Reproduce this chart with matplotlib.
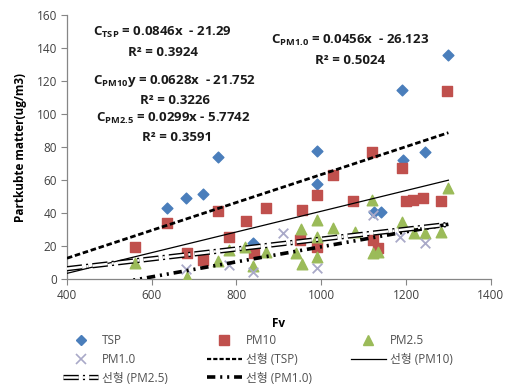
import numpy as np
import matplotlib
matplotlib.use("Agg")
import matplotlib.pyplot as plt
from matplotlib.lines import Line2D
from matplotlib.legend_handler import HandlerTuple

plt.rcParams['font.family'] = ['Open Sans', 'Noto Sans CJK KR', 'DejaVu Sans']
plt.rcParams['mathtext.fontset'] = 'custom'
plt.rcParams['mathtext.rm'] = 'Open Sans:bold'
plt.rcParams['mathtext.it'] = 'Open Sans:bold'
plt.rcParams['mathtext.bf'] = 'Open Sans:bold'
plt.rcParams['lines.scale_dashes'] = False

# Measured concentrations against Fv
tsp_x = [636, 680, 721, 756, 838, 989, 991, 1124, 1142, 1190, 1192, 1244, 1298]
tsp_y = [43, 49, 51.5, 74, 21.5, 77.5, 57.5, 40.5, 40.5, 114.5, 72, 77, 136]

pm10_x = [560, 636, 683, 721, 757, 782, 822, 841, 869, 949, 954, 989, 989, 1027,
          1076, 1119, 1122, 1134, 1190, 1199, 1216, 1240, 1282, 1296]
pm10_y = [19.5, 34, 15.8, 11.5, 41, 25.5, 35, 15.5, 43, 23.5, 42, 51, 19.5, 63,
          47, 77, 23.6, 19, 67, 47, 48, 49, 47, 114]

pm25_x = [560, 683, 756, 782, 820, 839, 869, 941, 952, 955, 989, 989, 991, 1027,
          1079, 1119, 1122, 1134, 1190, 1220, 1244, 1282, 1298]
pm25_y = [9.7, 1, 11, 17.6, 19.5, 7.9, 16.4, 15.8, 30, 9, 36, 25.5, 13.5, 31,
          28.5, 48, 16, 16.4, 34.5, 28, 28, 28.5, 55]

pm1_x = [680, 782, 839, 909, 989, 1122, 1187, 1244]
pm1_y = [6, 8.5, 4, 28, 6.7, 39, 25.5, 22]

# Linear fits (slope, intercept, R^2)
fit_names = ['TSP', 'PM10', 'PM2.5', 'PM1.0']
fit_slope = [0.0846, 0.0628, 0.0299, 0.0456]
fit_intercept = [-21.29, -21.752, -5.7742, -26.123]
fit_r2 = ['0.3924', '0.3226', '0.3591', '0.5024']
fit_range = [400, 1300]

x_ticks = [400, 600, 800, 1000, 1200, 1400]
y_ticks = [0, 20, 40, 60, 80, 100, 120, 140, 160]

fig = plt.figure(figsize=(5.07, 3.89), dpi=100)
ax = fig.add_axes([0.132, 0.283, 0.836, 0.678])

c_tsp = '#4A7EBB'
c_pm10 = '#C0504D'
c_pm25 = '#9BBB59'
c_pm1 = '#A9A9C8'

ax.scatter(tsp_x, tsp_y, marker='D', s=30, color=c_tsp, zorder=3)
ax.scatter(pm10_x, pm10_y, marker='s', s=62, color=c_pm10, zorder=3)
ax.scatter(pm25_x, pm25_y, marker='^', s=58, color=c_pm25, zorder=3)
ax.scatter(pm1_x, pm1_y, marker='x', s=48, color=c_pm1, linewidths=1.3, zorder=3)

xx = np.array(fit_range, dtype=float)
d_tsp = (4, 2)
d25 = (11, 3, 1.5, 3)
d1 = (6, 3.5, 1.5, 3.5, 1.5, 3.5)
# TSP: dashed
ax.plot(xx, fit_slope[0] * xx + fit_intercept[0], color='black', lw=2.0,
        dashes=d_tsp, zorder=4)
# PM10: thin solid
ax.plot(xx, fit_slope[1] * xx + fit_intercept[1], color='black', lw=0.9, zorder=4)
# PM2.5: double line, long dash-dot
y25 = fit_slope[2] * xx + fit_intercept[2]
ax.plot(xx, y25, color='black', lw=3.8, dashes=d25, dash_capstyle='butt', zorder=4)
ax.plot(xx, y25, color='white', lw=1.8, dashes=d25, dash_capstyle='butt', zorder=5)
# PM1.0: heavy long dash-dot-dot
ax.plot(xx, fit_slope[3] * xx + fit_intercept[3], color='black', lw=2.6,
        dashes=d1, zorder=4)

ax.set_xlim(400, 1400)
ax.set_ylim(0, 160)
ax.set_xticks(x_ticks)
ax.set_yticks(y_ticks)
for s in ['top', 'right']:
    ax.spines[s].set_visible(False)
for s in ['left', 'bottom']:
    ax.spines[s].set_color('#868686')
    ax.spines[s].set_linewidth(0.9)
ax.tick_params(axis='both', direction='out', length=4, color='#868686',
               labelsize=8.5, labelcolor='#404040', pad=3)

ax.set_xlabel('Fv', fontsize=8.5, fontweight='bold', labelpad=11)
ax.set_ylabel('Partkubte matter(ug/m3)', fontsize=8.5, fontweight='bold', labelpad=7)

# Fit equations
eq_style = dict(fontsize=9.5, fontweight='bold', ha='center', va='center', color='#1a1a1a')
ax.text(625, 149.5, r'C$_{\mathrm{TSP}}$' + f' = {fit_slope[0]}x  - {abs(fit_intercept[0])}', **eq_style)
ax.text(627, 137.5, f'R² = {fit_r2[0]}', **eq_style)
ax.text(654, 119.8, r'C$_{\mathrm{PM10}}$' + f'y = {fit_slope[1]}x  - {abs(fit_intercept[1])}', **eq_style)
ax.text(654, 108, f'R² = {fit_r2[1]}', **eq_style)
ax.text(651, 97.4, r'C$_{\mathrm{PM2.5}}$' + f' = {fit_slope[2]}x - {abs(fit_intercept[2])}', **eq_style)
ax.text(660, 86, f'R² = {fit_r2[2]}', **eq_style)
ax.text(1068, 144.8, r'C$_{\mathrm{PM1.0}}$' + f' = {fit_slope[3]}x  - {abs(fit_intercept[3])}', **eq_style)
ax.text(1069, 132.7, f'R² = {fit_r2[3]}', **eq_style)

# Legend
h_tsp = Line2D([], [], ls='none', marker='D', ms=5, color=c_tsp)
h_pm10 = Line2D([], [], ls='none', marker='s', ms=7, color=c_pm10)
h_pm25 = Line2D([], [], ls='none', marker='^', ms=7, color=c_pm25)
h_pm1 = Line2D([], [], ls='none', marker='x', ms=7, mew=1.2, color=c_pm1)
h_lt = Line2D([], [], color='black', lw=1.6, dashes=(3, 1.5))
h_l10 = Line2D([], [], color='black', lw=0.9)
h_l25 = (Line2D([], [], color='black', lw=3.8, dashes=d25, dash_capstyle='butt'),
         Line2D([], [], color='white', lw=1.8, dashes=d25, dash_capstyle='butt'))
h_l1 = Line2D([], [], color='black', lw=2.6, dashes=d1)

handles = [h_tsp, h_pm1, h_l25, h_pm10, h_lt, h_l1, h_pm25, h_l10]
labels = ['TSP', 'PM1.0', '선형 (PM2.5)', 'PM10', '선형 (TSP)', '선형 (PM1.0)',
          'PM2.5', '선형 (PM10)']
leg = fig.legend(handles, labels, ncol=3, loc='upper left', bbox_to_anchor=(0.124, 0.142),
                 frameon=False, fontsize=8.5, handlelength=3.0, columnspacing=3.3,
                 labelspacing=0.5, handletextpad=0.3, borderaxespad=0, borderpad=0,
                 handler_map={tuple: HandlerTuple(ndivide=1, pad=0)})
for t in leg.get_texts():
    t.set_color('#505050')

fig.savefig('out.png', dpi=100)
